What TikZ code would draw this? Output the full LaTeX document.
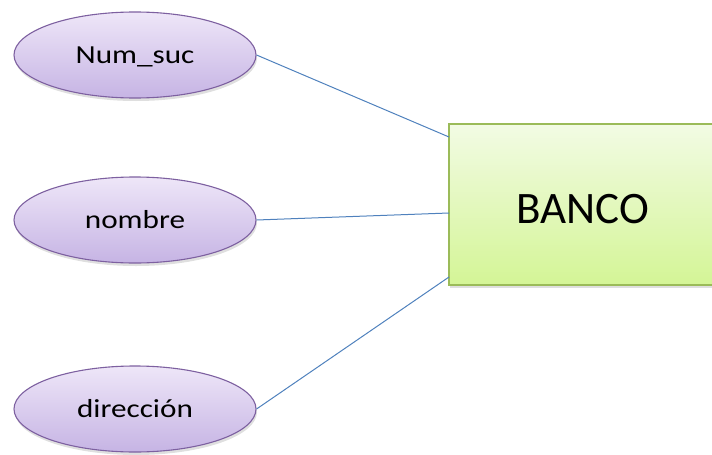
\documentclass[tikz,border=0pt]{standalone}
\usepackage{fontspec}
\setmainfont{Carlito}
\usetikzlibrary{shapes.geometric,shadows}
\definecolor{lavtop}{RGB}{238,230,248}
\definecolor{lavbot}{RGB}{198,180,228}
\definecolor{lavedge}{RGB}{125,96,160}
\definecolor{grtop}{RGB}{242,251,228}
\definecolor{grbot}{RGB}{212,245,150}
\definecolor{gredge}{RGB}{155,187,89}
\definecolor{linkblue}{RGB}{79,129,189}
\newcommand{\widetext}[1]{\scalebox{1.2}[1]{#1}}
\tikzset{
  attr/.style={ellipse, draw=lavedge, line width=1.1pt, top color=lavtop, bottom color=lavbot,
    minimum width=242pt, minimum height=86pt, inner sep=0pt, font=\fontsize{26}{30}\selectfont,
    text height=16.7pt, text depth=0pt,
    drop shadow={shadow xshift=1pt, shadow yshift=-3pt, opacity=0.25}},
  entity/.style={rectangle, draw=gredge, line width=1.1pt, top color=grtop, bottom color=grbot,
    minimum width=300pt, minimum height=161pt, inner sep=0pt,
    drop shadow={shadow xshift=1pt, shadow yshift=-3pt, opacity=0.25}},
  elabel/.style={font=\fontsize{45}{50}\selectfont, inner sep=0pt, text height=29pt, text depth=0pt},
  link/.style={draw=linkblue, line width=1pt}
}
\begin{document}
\begin{tikzpicture}[x=1pt,y=-1pt]
\useasboundingbox (0,0) rectangle (712,455);
\clip (0,0) rectangle (712,455);
\node[attr] (num) at (135,55) {\widetext{Num\_suc}};
\node[attr] (nom) at (135,220) {\widetext{nombre}};
\node[attr] (dir) at (135,409) {\widetext{dirección}};
\node[entity] (banco) at (599,204.5) {};
\node[elabel] (bl) at (582.5,208.5) {BANCO};
\coordinate (b1) at (449,137);
\coordinate (b2) at (449,213);
\coordinate (b3) at (449,277);
\draw[link] (num.east) -- (b1);
\draw[link] (nom.east) -- (b2);
\draw[link] (dir.east) -- (b3);
\end{tikzpicture}
\end{document}
